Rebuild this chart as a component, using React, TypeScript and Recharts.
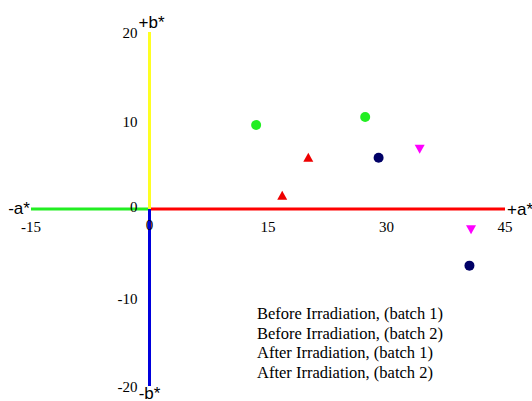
import { Legend, ReferenceDot, ReferenceLine, Scatter, ScatterChart, XAxis, YAxis } from "recharts"

// CIELAB a*/b* values
const beforeBatch1 = [
    { a: 13.5, b: 9.5 },
    { a: 27.3, b: 10.4 },
]
const beforeBatch2 = [
    { a: 16.8, b: 1.5 },
    { a: 20.1, b: 5.8 },
]
const afterBatch1 = [
    { a: 29.0, b: 5.8 },
    { a: 40.5, b: -6.4 },
]
const afterBatch2 = [
    { a: 34.2, b: 6.8 },
    { a: 40.7, b: -2.3 },
]

const seriesNames = [
    "Before Irradiation, (batch 1)",
    "Before Irradiation, (batch 2)",
    "After Irradiation, (batch 1)",
    "After Irradiation, (batch 2)",
]

const xTicks = [-15, 0, 15, 30, 45]
const yTicks = [20, 10, 0, -10, -20]

const serif = "'Liberation Serif', 'Times New Roman', serif"
const sans = "'Liberation Sans', Arial, sans-serif"

const Circle = (color: string) => (props: any) => <circle cx={props.cx} cy={props.cy} r={5} fill={color} />

const TriUp = (color: string) => (props: any) => {
    const { cx, cy } = props
    return <polygon points={`${cx - 5},${cy + 4} ${cx + 5},${cy + 4} ${cx},${cy - 5}`} fill={color} />
}

const TriDown = (color: string) => (props: any) => {
    const { cx, cy } = props
    return <polygon points={`${cx - 5},${cy - 4} ${cx + 5},${cy - 4} ${cx},${cy + 5}`} fill={color} />
}

const textLabel = (text: string, dx: number, dy: number, anchor: string, font: string, size: number) =>
    (props: any) => {
        const vb = props.viewBox || {}
        return (
            <text x={vb.x + dx} y={vb.y + dy} textAnchor={anchor} dominantBaseline="central" fontFamily={font} fontSize={size} fill="#000">
                {text}
            </text>
        )
    }

// legend is text only, kept in series order
const LegendText = (props: any) => {
    const items = [...(props.payload || [])].sort(
        (p: any, q: any) => seriesNames.indexOf(p.value) - seriesNames.indexOf(q.value)
    )
    return (
        <div style={{ fontFamily: serif, fontSize: 16.5, lineHeight: "19.5px", color: "#000", whiteSpace: "nowrap" }}>
            {items.map((p: any) => (
                <div key={p.value}>{p.value}</div>
            ))}
        </div>
    )
}

export default function App() {
    return (
        <div style={{ position: "absolute", left: 0, top: 0, background: "#fff" }}>
            <ScatterChart width={532} height={401} margin={{ top: 32, right: 27, left: 31, bottom: 15 }}>
                <XAxis type="number" dataKey="a" domain={[-15, 45]} hide />
                <YAxis type="number" dataKey="b" domain={[-20, 20]} hide />

                {/* coloured half axes */}
                <ReferenceLine segment={[{ x: -15, y: 0 }, { x: 0, y: 0 }]} stroke="#22ee22" strokeWidth={3} />
                <ReferenceLine segment={[{ x: 0, y: 0 }, { x: 45, y: 0 }]} stroke="#ff0000" strokeWidth={3} />
                <ReferenceLine segment={[{ x: 0, y: 0 }, { x: 0, y: 20 }]} stroke="#ffff22" strokeWidth={3} />
                <ReferenceLine segment={[{ x: 0, y: 0 }, { x: 0, y: -20 }]} stroke="#0000dd" strokeWidth={3} />

                {/* tick labels */}
                {xTicks.map((t) => (
                    <ReferenceDot key={"x" + t} x={t} y={0} r={0} stroke="none" fill="none" ifOverflow="visible"
                        label={textLabel(String(t), 0, t === 0 ? 16 : 18, "middle", serif, 15)} />
                ))}
                {yTicks.map((t) => (
                    <ReferenceDot key={"y" + t} x={0} y={t} r={0} stroke="none" fill="none" ifOverflow="visible"
                        label={textLabel(String(t), -12, t === 0 ? -2 : 1, "end", serif, 15)} />
                ))}

                {/* axis names */}
                <ReferenceDot x={0} y={20} r={0} stroke="none" fill="none" ifOverflow="visible" label={textLabel("+b*", 2, -10, "middle", sans, 17)} />
                <ReferenceDot x={0} y={-20} r={0} stroke="none" fill="none" ifOverflow="visible" label={textLabel("-b*", 0, 7, "middle", sans, 17)} />
                <ReferenceDot x={-15} y={0} r={0} stroke="none" fill="none" ifOverflow="visible" label={textLabel("-a*", -12, -1, "middle", sans, 17)} />
                <ReferenceDot x={45} y={0} r={0} stroke="none" fill="none" ifOverflow="visible" label={textLabel("+a*", 2, 0, "start", sans, 17)} />

                <Scatter name={seriesNames[0]} data={beforeBatch1} shape={Circle("#22ee22")} isAnimationActive={false} />
                <Scatter name={seriesNames[1]} data={beforeBatch2} shape={TriUp("#ee0000")} isAnimationActive={false} />
                <Scatter name={seriesNames[2]} data={afterBatch1} shape={Circle("#000066")} isAnimationActive={false} />
                <Scatter name={seriesNames[3]} data={afterBatch2} shape={TriDown("#ff00ff")} isAnimationActive={false} />

                <Legend layout="vertical" align="center" verticalAlign="middle" content={LegendText}
                    wrapperStyle={{ left: 257, top: 304, width: "auto" }} />
            </ScatterChart>
        </div>
    )
}
